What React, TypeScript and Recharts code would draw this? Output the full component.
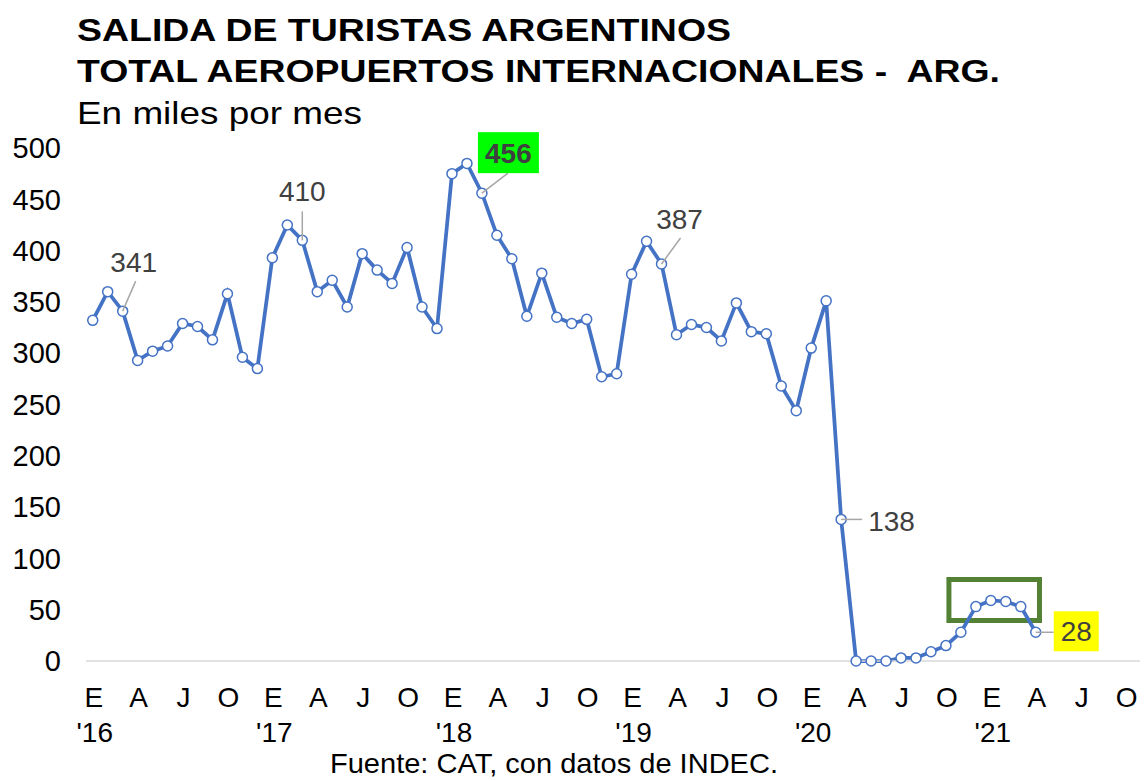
// Salida de turistas argentinos por aeropuertos internacionales, en miles por mes.
import React from 'react';
import { LabelList, Line, LineChart, ReferenceArea, XAxis, YAxis } from 'recharts';

const FONT = '"Liberation Sans", Arial, Helvetica, sans-serif';

const monthLetters = ['E', 'F', 'M', 'A', 'M', 'J', 'J', 'A', 'S', 'O', 'N', 'D'];
const yearLabels = ["'16", "'17", "'18", "'19", "'20", "'21"];

// miles de salidas por mes
const salidas2016 = [332, 360, 341, 293, 302, 307, 329, 326, 313, 358, 296, 285];
const salidas2017 = [393, 425, 410, 360, 371, 345, 397, 381, 368, 403, 345, 324];
const salidas2018 = [475, 485, 456, 415, 392, 336, 378, 335, 329, 333, 277, 280];
const salidas2019 = [377, 409, 387, 318, 328, 325, 312, 349, 321, 319, 268, 244];
const salidas2020 = [305, 351, 138, 0, 0, 0, 3, 3, 9, 15, 28, 53];
const salidas2021 = [59, 58, 53, 28];

const yTicks = [0, 50, 100, 150, 200, 250, 300, 350, 400, 450, 500];
const xTicks = [0, 3, 6, 9, 12, 15, 18, 21, 24, 27, 30, 33, 36, 39, 42, 45, 48, 51, 54, 57, 60, 63, 66, 69];

const series = [
  ...salidas2016,
  ...salidas2017,
  ...salidas2018,
  ...salidas2019,
  ...salidas2020,
  ...salidas2021,
];
const data = series.map((value, idx) => ({ idx, value }));

// highlighted points: label offset relative to the point
type Annot = { dx: number; dy: number; lx: number; ly: number; bg?: string; w?: number; h?: number; bold?: boolean; anchor?: 'middle' | 'start' };
const annotations: Record<number, Annot> = {
  2: { dx: 11, dy: -49, lx: 13, ly: -30 },
  14: { dx: 0, dy: -49, lx: 0, ly: -29 },
  26: { dx: 26.5, dy: -40.5, lx: 26, ly: -20, bg: '#00FF00', w: 61, h: 41, bold: true },
  38: { dx: 18, dy: -45, lx: 19, ly: -26 },
  50: { dx: 27, dy: 2, lx: 21, ly: 0, anchor: 'start' },
  63: { dx: 40.5, dy: -1, lx: 18, ly: 0, bg: '#FFFF00', w: 45, h: 40 },
};

function AnnotLabel(props: any) {
  const { x, y, index, value } = props;
  const a = annotations[index];
  if (!a) return null;
  const cx = x + a.dx;
  const cy = y + a.dy;
  return (
    <g>
      <line x1={x} y1={y} x2={x + a.lx} y2={y + a.ly} stroke='#a6a6a6' strokeWidth={1.5} />
      {a.bg && <rect x={cx - a.w! / 2} y={cy - a.h! / 2} width={a.w} height={a.h} fill={a.bg} />}
      <text
        x={cx}
        y={cy}
        dy='0.36em'
        textAnchor={a.anchor ?? 'middle'}
        fontFamily={FONT}
        fontSize={28}
        fontWeight={a.bold ? 'bold' : 'normal'}
        fill='#404040'
      >
        {value}
      </text>
    </g>
  );
}

function MonthTick(props: any) {
  const { x, y, payload } = props;
  const i = payload.value as number;
  const year = i % 12 === 0 ? yearLabels[i / 12] : null;
  return (
    <g>
      <text x={x + 1} y={y} dy='0.71em' textAnchor='middle' fontFamily={FONT} fontSize={28} fill='#000'>
        {monthLetters[i % 12]}
      </text>
      {year && (
        <text x={x + 2} y={y + 55} textAnchor='middle' fontFamily={FONT} fontSize={28} fill='#000'>
          {year}
        </text>
      )}
    </g>
  );
}

export default function App() {
  return (
    <div style={{ position: 'relative', width: 1148, height: 781, margin: '-8px 0 0 -8px', background: '#fff' }}>
      <LineChart width={1148} height={781} data={data} margin={{ top: 148, right: 0, bottom: 40, left: 0 }}>
        <XAxis
          dataKey='idx'
          type='number'
          domain={[-0.45, 70.5]}
          ticks={xTicks}
          interval={0}
          allowDataOverflow
          tickLine={false}
          tickSize={0}
          tickMargin={26}
          height={80}
          axisLine={{ stroke: '#d9d9d9', strokeWidth: 1.5 }}
          tick={<MonthTick />}
        />
        <YAxis
          type='number'
          domain={[0, 500]}
          ticks={yTicks}
          interval={0}
          width={86}
          axisLine={false}
          tickLine={false}
          tickSize={0}
          tickMargin={25}
          tick={{ fontFamily: FONT, fontSize: 29, fill: '#000' }}
        />
        <Line
          type='linear'
          dataKey='value'
          stroke='#4472C4'
          strokeWidth={3.75}
          dot={{ r: 5, fill: '#fff', stroke: '#4472C4', strokeWidth: 1.5 }}
          isAnimationActive={false}
        >
          <LabelList dataKey='value' content={AnnotLabel} />
        </Line>
        <ReferenceArea
          x1={57.2}
          x2={63.25}
          y1={39.5}
          y2={79.4}
          fill='none'
          stroke='#548235'
          strokeWidth={5}
          ifOverflow='visible'
        />
      </LineChart>
      <svg width={1148} height={781} style={{ position: 'absolute', left: 0, top: 0, pointerEvents: 'none' }}>
        <text x={77} y={41} fontFamily={FONT} fontSize={31} fontWeight='bold' textLength={654} lengthAdjust='spacingAndGlyphs'>
          SALIDA DE TURISTAS ARGENTINOS
        </text>
        <text x={77} y={82} fontFamily={FONT} fontSize={31} fontWeight='bold' textLength={923} lengthAdjust='spacingAndGlyphs' style={{ whiteSpace: 'pre' }}>
          TOTAL AEROPUERTOS INTERNACIONALES -  ARG.
        </text>
        <text x={77} y={124} fontFamily={FONT} fontSize={32} textLength={285} lengthAdjust='spacingAndGlyphs'>
          En miles por mes
        </text>
        <text x={554} y={773} textAnchor='middle' fontFamily={FONT} fontSize={28} textLength={448} lengthAdjust='spacingAndGlyphs'>
          Fuente: CAT, con datos de INDEC.
        </text>
      </svg>
    </div>
  );
}
